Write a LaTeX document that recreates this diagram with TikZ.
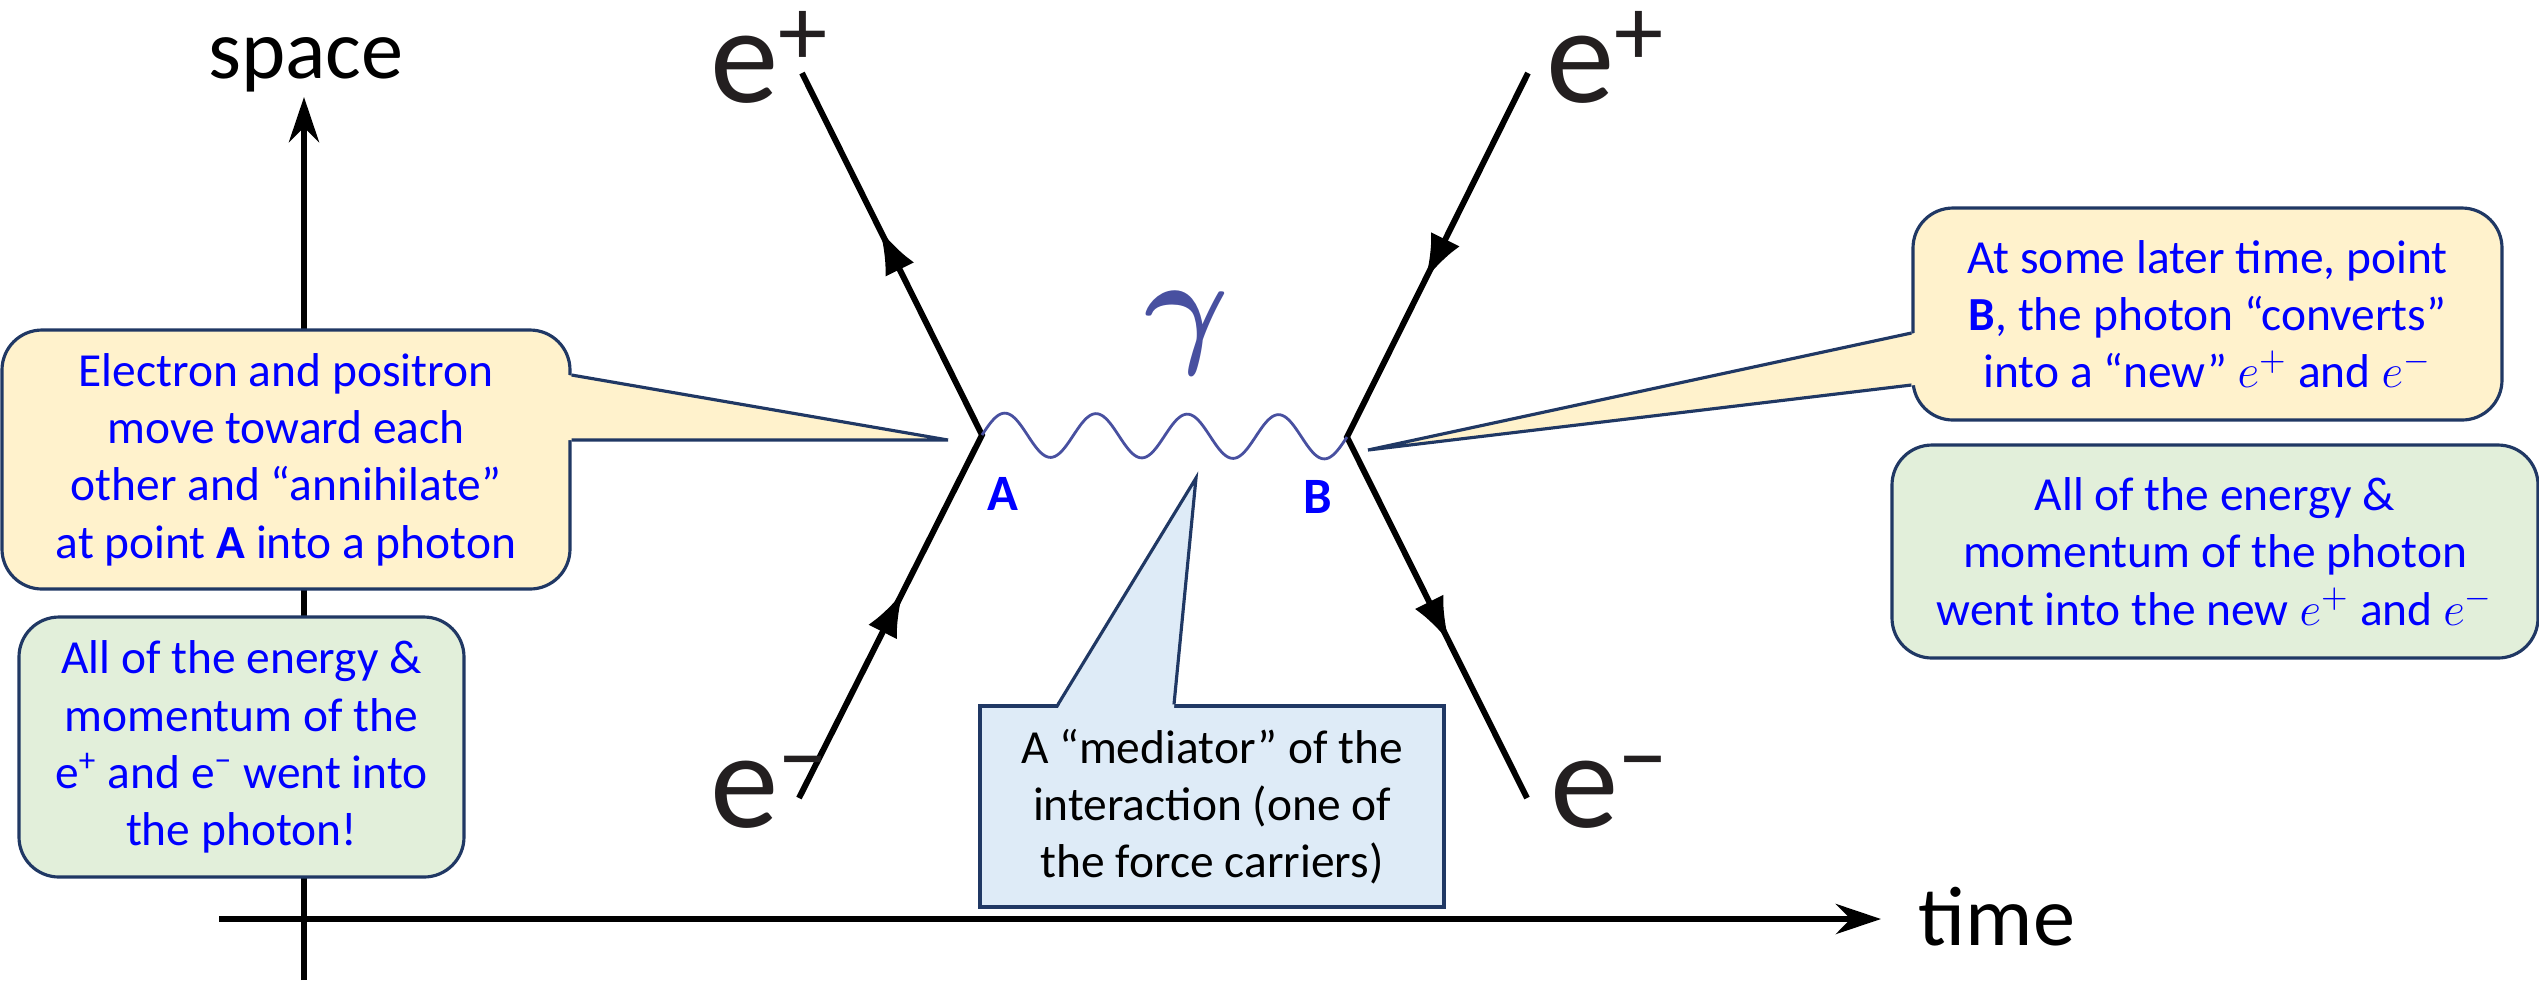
\RequirePackage{fix-cm}
\documentclass[tikz,border=0pt]{standalone}
\usepackage{fontspec}
\setmainfont{Carlito}
\usetikzlibrary{arrows.meta,decorations.markings,positioning}
\definecolor{calloutyellow}{HTML}{FFF2CC}
\definecolor{notegreen}{HTML}{E2EFDA}
\definecolor{mediatorblue}{HTML}{DEEBF7}
\definecolor{boxline}{HTML}{203864}
\definecolor{photonblue}{RGB}{72,80,160}
\definecolor{labelblack}{HTML}{231F20}
\newcommand{\boxfont}{\fontsize{13.5}{16.3}\selectfont}
\newcommand{\particle}[1]{{\fontsize{39}{39}\selectfont e}\raisebox{0.37cm}[0pt][0pt]{\fontsize{28}{28}\selectfont #1}}
\tikzset{
  fermion/.style={
    line width=1.7pt,
    postaction={decorate},
    decoration={markings,
      mark=at position 0.285 with {\arrow{Latex[length=0.45cm,width=0.32cm]}},
      mark=at position 0.785 with {\arrow{Latex[length=0.45cm,width=0.32cm]}}}
  },
  photon/.style={
    draw=photonblue,
    line width=0.8pt
  },
  axis/.style={
    line width=1.8pt,
    -{Stealth[length=0.45cm,width=0.3cm]}
  },
  axislabel/.style={
    inner sep=0pt,
    font=\fontsize{24}{28}\selectfont
  },
  particle/.style={
    inner sep=0pt,
    text=labelblack
  },
  vlabel/.style={
    inner sep=0pt,
    text=blue,
    font=\fontsize{14.5}{17}\selectfont\bfseries
  },
  callout/.style={
    draw=boxline,
    line width=0.9pt,
    fill=calloutyellow,
    rounded corners=0.4cm,
    text=blue,
    align=center,
    inner sep=0pt,
    font=\boxfont
  },
  note/.style={
    callout,
    fill=notegreen
  },
  mediatorbox/.style={
    callout,
    fill=mediatorblue,
    sharp corners,
    text=black
  },
  pointer/.style={
    draw=boxline,
    line width=0.9pt
  }
}
\begin{document}
\begin{tikzpicture}
  \useasboundingbox (0,0) rectangle (25.39,-9.80);
  % axes
  \coordinate (o) at (3.04,-9.80);
  \coordinate (yend) at (3.04,-0.97);
  \coordinate (xstart) at (2.19,-9.19);
  \coordinate (xend) at (18.81,-9.19);
  \draw[axis] (o) -- (yend);
  \draw[axis] (xstart) -- (xend);
  \node[axislabel, anchor=base] (spacelabel) at (3.06,-0.78) {space};
  \node[axislabel, anchor=base west] (timelabel) at (19.18,-9.45) {time};

  % vertices and legs
  \coordinate (A) at (9.82,-4.35);
  \coordinate (B) at (13.47,-4.37);
  \coordinate (inL) at (7.99,-7.98);
  \coordinate (outL) at (8.02,-0.73);
  \coordinate (inR) at (15.28,-0.73);
  \coordinate (outR) at (15.27,-7.98);
  \draw[fermion] (inL) -- (A) -- (outL);
  \draw[fermion] (inR) -- (B) -- (outR);
  \begin{scope}[shift={(A)}]
    \draw[photon] plot[domain=0:1440, samples=181] ({\x/1440*3.65}, {0.22*sin(\x) - 0.02*\x/1440});
  \end{scope}
  \foreach \x/\y/\s [count=\i] in {7.10/-1.02/+, 15.46/-1.02/+, 7.10/-8.27/−, 15.50/-8.27/−}
    \node[particle, anchor=base west] (e\i) at (\x,\y) {\particle{\s}};
  \node[inner sep=0pt, text=photonblue, font=\fontsize{37}{37}\selectfont\boldmath] (gammalabel) at (11.87,-3.33) {$\gamma$};
  \node[vlabel] (labA) at ([xshift=0.21cm,yshift=-0.59cm]A) {A};
  \node[vlabel] (labB) at ([xshift=-0.29cm,yshift=-0.60cm]B) {B};

  % boxes
  \coordinate (tipA) at (9.48,-4.40);
  \node[callout, minimum width=5.68cm, minimum height=2.59cm] (annihilate) at (2.86,-4.595)
    {Electron and positron\\ move toward each\\ other and “annihilate”\\ at point \textbf{A} into a photon};
  \fill[calloutyellow] ([xshift=-1pt,yshift=0.845cm]annihilate.east) -- (tipA) -- ([xshift=-1pt,yshift=0.195cm]annihilate.east) -- cycle;
  \draw[pointer] ([yshift=0.845cm]annihilate.east) -- (tipA) -- ([yshift=0.195cm]annihilate.east);

  \node[note, minimum width=4.45cm, minimum height=2.60cm] (pairnote) at (2.415,-7.47)
    {All of the energy \&\\ momentum of the\\ e\textsuperscript{+} and e\textsuperscript{−} went into\\ the photon!};

  \coordinate (tipM) at (11.96,-4.78);
  \node[mediatorbox, minimum width=4.64cm, minimum height=2.01cm] (mediator) at (12.12,-8.065)
    {A “mediator” of the\\ interaction (one of\\ the force carriers)};
  \fill[mediatorblue] ([xshift=-1.54cm,yshift=-1pt]mediator.north) -- (tipM) -- ([xshift=-0.38cm,yshift=-1pt]mediator.north) -- cycle;
  \draw[pointer] ([xshift=-1.54cm]mediator.north) -- (tipM) -- ([xshift=-0.38cm]mediator.north);

  \coordinate (tipB) at (13.68,-4.50);
  \node[callout, minimum width=5.89cm, minimum height=2.12cm] (converts) at (22.075,-3.14)
    {At some later time, point\\ \textbf{B}, the photon “converts”\\ into a “new” $e^{+}$ and $e^{-}$};
  \fill[calloutyellow] ([xshift=1pt,yshift=-0.19cm]converts.west) -- (tipB) -- ([xshift=1pt,yshift=-0.71cm]converts.west) -- cycle;
  \draw[pointer] ([yshift=-0.19cm]converts.west) -- (tipB) -- ([yshift=-0.71cm]converts.west);

  \node[note, minimum width=6.46cm, minimum height=2.13cm] (photonnote) at (22.15,-5.515)
    {All of the energy \&\\ momentum of the photon\\ went into the new $e^{+}$ and $e^{-}$};
\end{tikzpicture}
\end{document}
